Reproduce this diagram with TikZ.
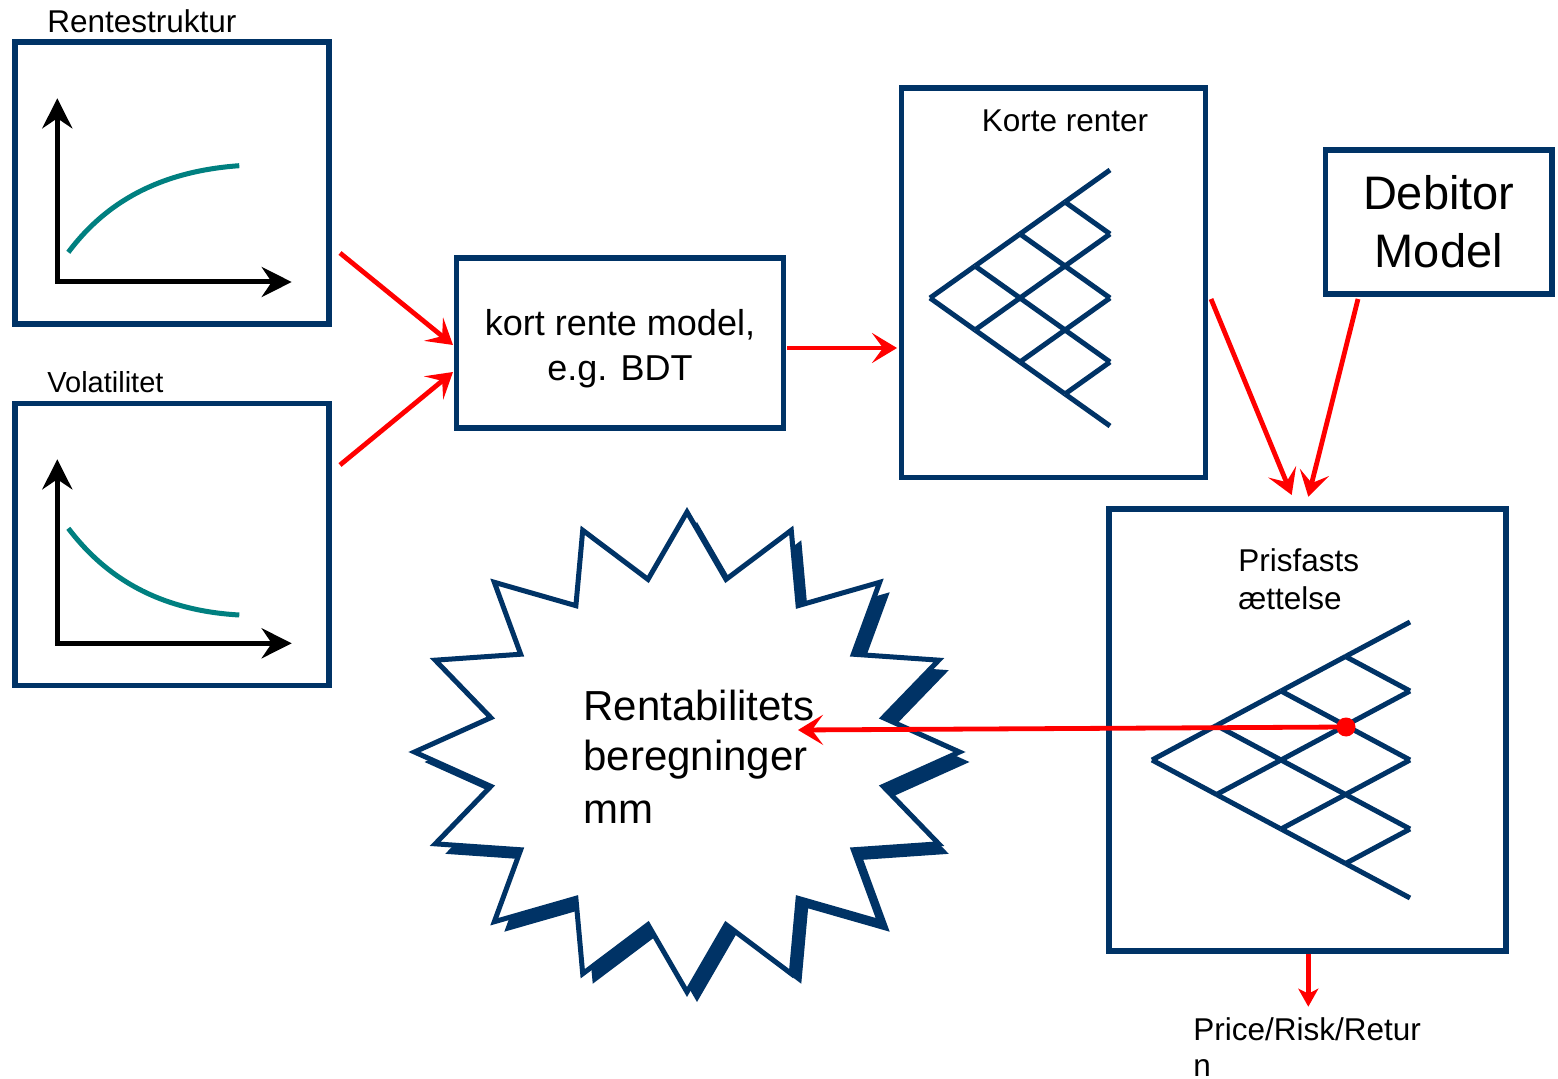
\documentclass[tikz,border=0pt]{standalone}
\usepackage{fontspec}
\setmainfont{Liberation Sans}
\usetikzlibrary{arrows.meta}
\definecolor{navy}{RGB}{0,51,102}
\definecolor{tealc}{RGB}{0,128,128}
\tikzset{
  box/.style={draw=navy, line width=2.75pt, fill=white, rectangle, inner sep=0pt},
  treeline/.style={navy, line width=2.5pt},
  redarrow/.style={draw=red, line width=2.4pt, -{Stealth[length=12.5pt,width=15pt,inset=5.5pt]}},
  smallredarrow/.style={draw=red, line width=2.4pt, -{Stealth[length=9pt,width=10pt,inset=2.5pt]}},
  axisarrow/.style={black, line width=2.5pt, line join=miter, {Stealth[length=15pt,width=15pt,inset=5pt]}-{Stealth[length=15pt,width=15pt,inset=5pt]}},
  curveline/.style={tealc, line width=2.5pt},
  lbl/.style={inner sep=0pt, text=black},
}
\begin{document}
\begin{tikzpicture}[x=0.5pt, y=-0.5pt]
\useasboundingbox[fill=white] (0,0) rectangle (1558,1079);

% ---------- boxes ----------
\node[box, minimum width=157pt, minimum height=141pt] (rs) at (172,183) {};
\node[box, minimum width=157pt, minimum height=141pt] (vol) at (172,544.6) {};
\node[box, minimum width=163.5pt, minimum height=85pt] (krm) at (620,343) {};
\node[lbl, align=center, font=\fontsize{18pt}{22.5pt}\selectfont] (krmtext) at (620,349) {kort rente model,\\e.g. BDT};
\node[box, minimum width=152pt, minimum height=194.75pt] (kr) at (1053.5,282.7) {};
\node[box, minimum width=113.25pt, minimum height=72pt, align=center,
      font=\fontsize{23.5pt}{29pt}\selectfont] (deb) at (1438.75,222) {Debitor\\Model};
\node[box, minimum width=198.5pt, minimum height=221pt] (pris) at (1307.5,730) {};

% ---------- labels ----------
\node[lbl, anchor=base west, font=\fontsize{15.75pt}{19pt}\selectfont] (lrs) at (47,33) {Rentestruktur};
\node[lbl, anchor=base west, font=\fontsize{14.5pt}{18pt}\selectfont] (lvol) at (47,393) {Volatilitet};
\node[lbl, anchor=base, font=\fontsize{15.75pt}{19pt}\selectfont] (lkr) at (1065,132) {Korte renter};
\node[lbl, anchor=base west, font=\fontsize{15.75pt}{19pt}\selectfont] (lpris1) at (1238,572) {Prisfasts};
\node[lbl, anchor=base west, font=\fontsize{15.75pt}{19pt}\selectfont] (lpris2) at (1238,610) {ættelse};
\node[lbl, anchor=base west, font=\fontsize{15.75pt}{19pt}\selectfont] (lout1) at (1193,1040) {Price/Risk/Retur};
\node[lbl, anchor=base west, font=\fontsize{15.75pt}{19pt}\selectfont] (lout2) at (1193,1076) {n};

% ---------- charts ----------
\coordinate (ay1) at (57.3,98.3);
\coordinate (ao1) at (57.3,282);
\coordinate (ax1) at (291.7,282);
\draw[axisarrow] (ay1) -- (ao1) -- (ax1);
\draw[curveline] (68.3,252.3) .. controls (100,210) and (150,172) .. (239.3,165.7);

\coordinate (ay2) at (57.3,459.3);
\coordinate (ao2) at (57.3,643.3);
\coordinate (ax2) at (291.7,643.3);
\draw[axisarrow] (ay2) -- (ao2) -- (ax2);
\draw[curveline] (68.3,528.3) .. controls (100,570) and (150,610) .. (239.3,615);

% ---------- trees ----------
\foreach \k in {0,...,3}{
  \foreach \j in {0,...,\k}{
    \draw[treeline] ({930+45*\k},{298+32*(2*\j-\k)}) -- ({975+45*\k},{298+32*(2*\j-\k-1)});
    \draw[treeline] ({930+45*\k},{298+32*(2*\j-\k)}) -- ({975+45*\k},{298+32*(2*\j-\k+1)});
    \draw[treeline] ({1152+64.5*\k},{760+34.5*(2*\j-\k)}) -- ({1216.5+64.5*\k},{760+34.5*(2*\j-\k-1)});
    \draw[treeline] ({1152+64.5*\k},{760+34.5*(2*\j-\k)}) -- ({1216.5+64.5*\k},{760+34.5*(2*\j-\k+1)});
  }
}

% ---------- star ----------
\begin{scope}[shift={(697,762)}]
  \fill[navy] (90:272.5 and 240)
    \foreach \i in {1,...,16}{ -- ({90+22.5*\i-11.25}:200 and 176) -- ({90+22.5*\i}:272.5 and 240) } -- cycle;
\end{scope}
\begin{scope}[shift={(687,752)}]
  \filldraw[fill=white, draw=navy, line width=2.5pt, line join=miter] (90:272.5 and 240)
    \foreach \i in {1,...,16}{ -- ({90+22.5*\i-11.25}:200 and 176) -- ({90+22.5*\i}:272.5 and 240) } -- cycle;
\end{scope}
\coordinate (star) at (687,752);
\node[lbl, anchor=base west, font=\fontsize{21pt}{26pt}\selectfont] (st1) at (583,720) {Rentabilitets};
\node[lbl, anchor=base west, font=\fontsize{21pt}{26pt}\selectfont] (st2) at (583,770) {beregninger};
\node[lbl, anchor=base west, font=\fontsize{21pt}{26pt}\selectfont] (st3) at (583,823) {mm};

% ---------- connectors ----------
\coordinate (a1s) at (340,253);
\coordinate (a1e) at (453,345);
\coordinate (a2s) at (340,465);
\coordinate (a2e) at (453,372);
\coordinate (a3s) at (787,348);
\coordinate (a3e) at (897,348);
\coordinate (a4s) at (1211,299);
\coordinate (a4e) at (1291.7,495);
\coordinate (a5s) at (1358,299);
\coordinate (a5e) at (1308.3,496.7);
\coordinate (a6e) at (798,730);
\coordinate (a7s) at (1308.3,953.5);
\coordinate (a7e) at (1308.3,1006.7);

\draw[redarrow] (a1s) -- (a1e);
\draw[redarrow] (a2s) -- (a2e);
\draw[redarrow] (a3s) -- (a3e);
\draw[redarrow] (a4s) -- (a4e);
\draw[redarrow] (a5s) -- (a5e);
\node[circle, fill=red, inner sep=0pt, minimum size=9.5pt] (dot) at (1346,727) {};
\draw[redarrow] (dot.center) -- (a6e);
\draw[smallredarrow] (a7s) -- (a7e);
\end{tikzpicture}
\end{document}
